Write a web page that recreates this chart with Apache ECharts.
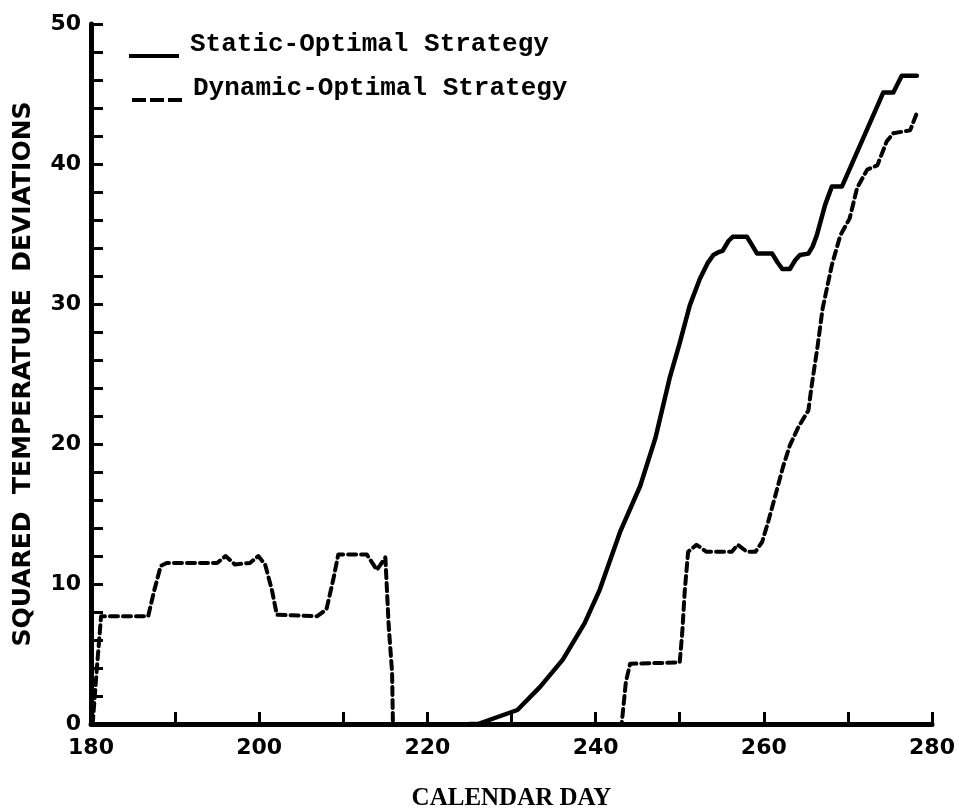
<!DOCTYPE html>
<html>
<head>
<meta charset="utf-8">
<script src="https://cdn.jsdelivr.net/npm/echarts@6/dist/echarts.min.js"></script>
<style>
html, body { margin: 0; padding: 0; background: #fff; }
#chart { width: 959px; height: 808px; }
</style>
</head>
<body>
<div id="chart"></div>
<script>
var seriesNames = ['Static-Optimal Strategy', 'Dynamic-Optimal Strategy'];

var staticDays = [225, 226, 230.7, 233.4, 236.1, 238.7, 240.5, 242.9, 245.3, 247.1, 248.8, 250, 251.2, 252.4, 253.3, 254, 254.6, 255.1, 255.8, 256.3, 258, 258.6, 259.2, 261, 261.6, 262.2, 263.1, 263.7, 264.3, 265.3, 265.8, 266.3, 267.3, 268.1, 269.3, 274.2, 275.4, 276.4, 278.2];
var staticValues = [0, 0, 1.0, 2.65, 4.6, 7.2, 9.6, 13.7, 17, 20.4, 24.7, 27.2, 29.9, 31.8, 32.9, 33.5, 33.7, 33.8, 34.5, 34.8, 34.8, 34.2, 33.6, 33.6, 33.0, 32.5, 32.5, 33.1, 33.5, 33.6, 34.1, 34.9, 37.1, 38.4, 38.4, 45.1, 45.1, 46.3, 46.3];

var dynamicDays = [180.2, 180.7, 181.2, 183, 186.8, 187.5, 188.3, 189, 195, 196, 197.1, 198.9, 199.9, 200.7, 201.5, 202.1, 206.9, 208, 208.8, 209.4, 212.8, 214, 215, 215.4, 215.8, 215.9, 243.1, 243.6, 244.1, 250, 250.3, 250.6, 251, 252, 253.2, 256.2, 256.9, 258, 259, 259.8, 260.5, 261.5, 262.3, 263.1, 264.1, 265.3, 265.7, 266.4, 267, 268.1, 269.1, 270.2, 271.1, 272.3, 273.5, 274.6, 275.4, 277.4, 278.3];
var dynamicValues = [0, 4, 7.7, 7.7, 7.7, 9.5, 11.3, 11.5, 11.5, 12.0, 11.4, 11.5, 12.0, 11.4, 9.6, 7.8, 7.7, 8.2, 10.3, 12.1, 12.1, 11.0, 11.9, 7, 3.7, 0, 0, 3, 4.3, 4.4, 6.5, 9.5, 12.3, 12.8, 12.3, 12.3, 12.8, 12.3, 12.3, 13.0, 14.4, 16.6, 18.4, 19.9, 21.2, 22.4, 24.2, 27.0, 29.7, 32.8, 34.9, 36.1, 38.3, 39.6, 39.9, 41.6, 42.2, 42.4, 43.8];

function pairs(xs, ys) {
    return xs.map(function (x, i) { return [x, ys[i]]; });
}

var myChart = echarts.init(document.getElementById('chart'));

var labelFont = {
    color: '#000',
    fontFamily: 'DejaVu Sans',
    fontWeight: 'bold',
    fontSize: 22
};

// legend text sits above its line sample, like in the original figure
var legendText = {
    color: '#000',
    rich: {
        t: {
            fontFamily: 'Liberation Mono',
            fontWeight: 'bold',
            fontSize: 26,
            color: '#000',
            padding: [0, 0, 24, 6]
        }
    }
};

var solidIcon = 'path://M0,0h50v4h-50z';
var dashIcon = 'path://M0,0h14v4h-14z M18,0h14v4h-14z M36,0h14v4h-14z';

var option = {
    backgroundColor: '#fff',
    animation: false,
    grid: {
        left: 91,
        right: 27,
        top: 24,
        bottom: 84,
        outerBoundsMode: 'none'
    },
    legend: [
        {
            data: [{ name: seriesNames[0], icon: solidIcon }],
            left: 124,
            top: 26,
            itemWidth: 50,
            itemHeight: 4,
            formatter: function (n) { return '{t|' + n + '}'; },
            textStyle: legendText
        },
        {
            data: [{ name: seriesNames[1], icon: dashIcon }],
            left: 127,
            top: 70,
            itemWidth: 50,
            itemHeight: 4,
            formatter: function (n) { return '{t|' + n + '}'; },
            textStyle: legendText
        }
    ],
    xAxis: {
        type: 'value',
        min: 180,
        max: 280,
        interval: 10,
        name: 'CALENDAR DAY',
        nameLocation: 'middle',
        nameGap: 62,
        nameTextStyle: {
            color: '#000',
            fontFamily: 'Liberation Serif',
            fontWeight: 'bold',
            fontSize: 25
        },
        axisLine: { lineStyle: { color: '#000', width: 5 } },
        axisTick: { inside: true, length: 12, lineStyle: { color: '#000', width: 3 } },
        axisLabel: Object.assign({
            margin: 13,
            formatter: function (v) { return v % 20 === 0 ? v : ''; }
        }, labelFont),
        splitLine: { show: false }
    },
    yAxis: {
        type: 'value',
        min: 0,
        max: 50,
        interval: 2,
        name: 'SQUARED  TEMPERATURE  DEVIATIONS',
        nameLocation: 'middle',
        nameGap: 55,
        nameTextStyle: {
            color: '#000',
            fontFamily: 'DejaVu Sans',
            fontWeight: 'bold',
            fontSize: 25
        },
        axisLine: { show: true, lineStyle: { color: '#000', width: 5 } },
        axisTick: { show: true, inside: true, length: 12, lineStyle: { color: '#000', width: 3 } },
        axisLabel: Object.assign({
            margin: 10,
            formatter: function (v) { return v % 10 === 0 ? v : ''; }
        }, labelFont),
        splitLine: { show: false }
    },
    series: [
        {
            name: seriesNames[0],
            type: 'line',
            data: pairs(staticDays, staticValues),
            symbol: 'none',
            color: '#000',
            lineStyle: { color: '#000', width: 4.5, cap: 'round', join: 'round' }
        },
        {
            name: seriesNames[1],
            type: 'line',
            data: pairs(dynamicDays, dynamicValues),
            symbol: 'none',
            color: '#000',
            lineStyle: { color: '#000', width: 4, type: [8, 5], cap: 'round', join: 'round' }
        }
    ]
};

myChart.setOption(option);
</script>
</body>
</html>
